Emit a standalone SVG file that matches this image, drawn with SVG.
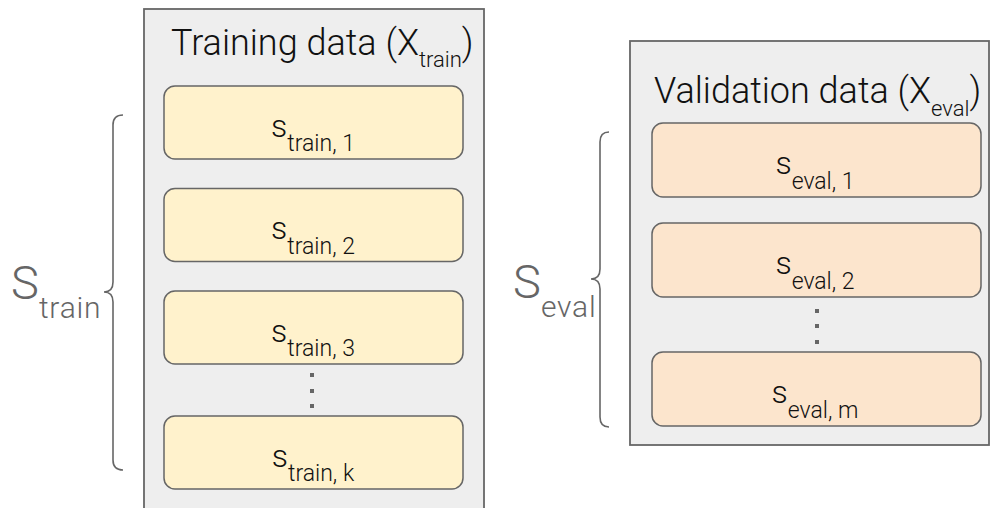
<svg xmlns="http://www.w3.org/2000/svg" width="998" height="508" viewBox="0 0 998 508">
  <style>
    .panel { fill: #eeeeee; stroke: #666666; stroke-width: 1.8; }
    .train { fill: #fff2cc; stroke: #666666; stroke-width: 1.5; }
    .eval { fill: #fce5cd; stroke: #666666; stroke-width: 1.5; }
    .brace { fill: none; stroke: #666666; stroke-width: 1.6; }
    .dot { fill: #666666; }
    text { font-family: Roboto, "Liberation Sans", sans-serif; font-weight: 300; fill: #111111; }
    .title { font-size: 36px; }
    .tsub { font-size: 22px; }
    .item { font-size: 32px; text-anchor: middle; }
    .isub { font-size: 23px; }
    .lbl { font-size: 47px; fill: #666666; }
    .lsub { font-size: 30px; letter-spacing: 0.8px; fill: #666666; }
  </style>

  <!-- training set panel -->
  <g id="training-data">
    <rect class="panel" x="144" y="9" width="340" height="520"/>
    <text class="title" x="171" y="55">Training data (X<tspan class="tsub" dy="12">train</tspan><tspan dy="-12">)</tspan></text>
  </g>
  <g id="s-train-1">
    <rect class="train" x="164" y="86" width="299" height="73" rx="11"/>
    <text class="item" x="313" y="136.5">s<tspan class="isub" dy="14.5">train, 1</tspan></text>
  </g>
  <g id="s-train-2">
    <rect class="train" x="164" y="188.5" width="299" height="73" rx="11"/>
    <text class="item" x="313" y="239">s<tspan class="isub" dy="14.5">train, 2</tspan></text>
  </g>
  <g id="s-train-3">
    <rect class="train" x="164" y="291" width="299" height="73" rx="11"/>
    <text class="item" x="313" y="341.5">s<tspan class="isub" dy="14.5">train, 3</tspan></text>
  </g>
  <g id="train-ellipsis">
    <rect class="dot" x="310" y="373" width="4" height="4"/>
    <rect class="dot" x="310" y="389" width="4" height="4"/>
    <rect class="dot" x="310" y="404" width="4" height="4"/>
  </g>
  <g id="s-train-k">
    <rect class="train" x="164" y="416" width="299" height="73" rx="11"/>
    <text class="item" x="313" y="466.5">s<tspan class="isub" dy="14.5">train, k</tspan></text>
  </g>

  <!-- validation set panel -->
  <g id="validation-data">
    <rect class="panel" x="630" y="41" width="359" height="404"/>
    <text class="title" x="654" y="103">Validation data (X<tspan class="tsub" dy="13">eval</tspan><tspan dy="-13">)</tspan></text>
  </g>
  <g id="s-eval-1">
    <rect class="eval" x="652" y="123" width="329" height="74" rx="11"/>
    <text class="item" x="815" y="174">s<tspan class="isub" dy="15">eval, 1</tspan></text>
  </g>
  <g id="s-eval-2">
    <rect class="eval" x="652" y="223" width="329" height="74" rx="11"/>
    <text class="item" x="815" y="274">s<tspan class="isub" dy="15">eval, 2</tspan></text>
  </g>
  <g id="eval-ellipsis">
    <rect class="dot" x="815" y="309" width="4" height="4"/>
    <rect class="dot" x="815" y="324" width="4" height="4"/>
    <rect class="dot" x="815" y="340" width="4" height="4"/>
  </g>
  <g id="s-eval-m">
    <rect class="eval" x="652" y="352" width="329" height="74" rx="11"/>
    <text class="item" x="815" y="403">s<tspan class="isub" dy="15">eval, m</tspan></text>
  </g>

  <!-- set braces with their labels -->
  <g id="connectors">
    <path class="brace" d="M123,115 Q113,115 113,125 L113,282 Q113,292 104,292 Q113,292 113,302 L113,460 Q113,470 123,470"/>
    <path class="brace" d="M609,132 Q600,132 600,142 L600,269 Q600,279 591,279 Q600,279 600,289 L600,417 Q600,427 609,427"/>
  </g>
  <g id="S-train-label">
    <text class="lbl" x="11" y="299">S<tspan class="lsub" dy="19">train</tspan></text>
  </g>
  <g id="S-eval-label">
    <text class="lbl" x="513" y="298">S<tspan class="lsub" dy="19">eval</tspan></text>
  </g>
</svg>
